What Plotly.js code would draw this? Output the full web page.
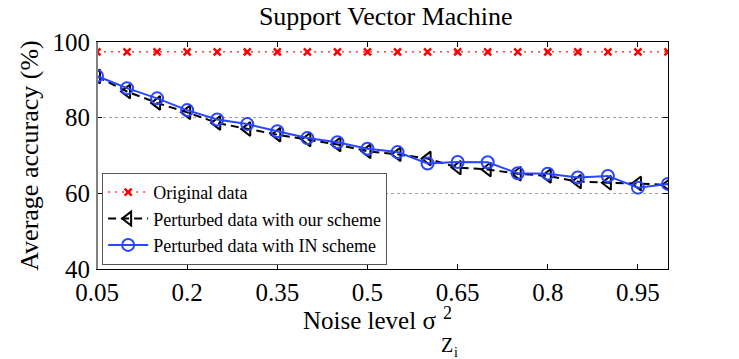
<!DOCTYPE html>
<html>
<head>
<meta charset="utf-8">
<script src="https://cdn.plot.ly/plotly-3.0.1.min.js"></script>
<style>html,body{margin:0;padding:0;background:#fff;}#chart{width:739px;height:359px;}</style>
</head>
<body>
<div id="chart"></div>
<script>
const noiseLevels = [0.05,0.10,0.15,0.20,0.25,0.30,0.35,0.40,0.45,0.50,0.55,0.60,0.65,0.70,0.75,0.80,0.85,0.90,0.95,1.00];
const originalData = [97.4,97.4,97.4,97.4,97.4,97.4,97.4,97.4,97.4,97.4,97.4,97.4,97.4,97.4,97.4,97.4,97.4,97.4,97.4,97.4];
const ourScheme = [90.9,86.9,83.9,81.4,78.6,77.0,75.5,74.2,72.9,71.1,70.3,69.2,66.8,66.3,65.2,64.6,63.1,62.8,62.6,62.2];
const inScheme = [91.0,87.8,85.1,82.0,79.5,78.3,76.4,74.6,73.5,71.8,70.9,67.9,68.3,68.2,65.3,65.2,64.2,64.6,61.5,62.5];
const xTickVals = [0.05,0.2,0.35,0.5,0.65,0.8,0.95];
const xTickText = ['0.05','0.2','0.35','0.5','0.65','0.8','0.95'];
const yTickVals = [40,60,80,100];
const seriesNames = ['Original data','Perturbed data with our scheme','Perturbed data with IN scheme'];

const serif = '"Liberation Serif", "Times New Roman", Times, serif';

const traces = [
  {x: noiseLevels, y: originalData, name: seriesNames[0], mode: 'lines+markers',
   line: {color: '#ff4040', width: 1.5, dash: '2px,5px'},
   marker: {symbol: 'x-thin-open', size: 7, color: '#ff0000', line: {color: '#ff0000', width: 2.5}}},
  {x: noiseLevels, y: ourScheme, name: seriesNames[1], mode: 'lines+markers',
   line: {color: '#000000', width: 2, dash: '8px,5px'},
   marker: {symbol: 'triangle-left-open', size: 12, color: '#000000', line: {color: '#000000', width: 2}}},
  {x: noiseLevels, y: inScheme, name: seriesNames[2], mode: 'lines+markers',
   line: {color: '#2a45ff', width: 2},
   marker: {symbol: 'circle-open', size: 12, color: '#2a45ff', line: {color: '#2a45ff', width: 2}}}
];

const layout = {
  width: 739, height: 359,
  margin: {l: 97, r: 71, t: 42, b: 90},
  paper_bgcolor: '#ffffff', plot_bgcolor: '#ffffff',
  font: {family: serif, color: '#000000', size: 24},
  title: {text: 'Support Vector Machine', font: {family: serif, size: 26, color: '#000'},
          x: 0.522, xanchor: 'center', y: 0.955, yanchor: 'middle'},
  xaxis: {range: [0.05, 1.0], tickvals: xTickVals, ticktext: xTickText,
          showgrid: false, zeroline: false, showline: true, linecolor: '#000', linewidth: 1,
          mirror: 'ticks', ticks: 'inside', ticklen: 5, tickcolor: '#000', tickwidth: 1,
          tickfont: {family: serif, size: 25}, automargin: false, ticklabelstandoff: 1},
  yaxis: {range: [40, 100], tickvals: yTickVals,
          showgrid: true, gridcolor: '#a0a0a0', griddash: 'dot', gridwidth: 1,
          zeroline: false, showline: true, linecolor: '#000', linewidth: 1,
          mirror: 'ticks', ticks: 'inside', ticklen: 5, tickcolor: '#000', tickwidth: 1,
          tickfont: {family: serif, size: 25}, automargin: false, ticklabelstandoff: 1,
          title: {text: 'Average accuracy (%)', font: {family: serif, size: 26}, standoff: 6}},
  legend: {x: 0.009, y: 0.018, xanchor: 'left', yanchor: 'bottom',
           bgcolor: '#ffffff', bordercolor: '#555555', borderwidth: 1,
           font: {family: serif, size: 18}, tracegroupgap: 0, itemwidth: 40},
  shapes: [
    {type: 'line', xref: 'paper', yref: 'paper', x0: 0, x1: 0, y0: 0, y1: 1,
     line: {color: '#808080', width: 2}}
  ],
  annotations: [
    {text: 'Noise level σ', xref: 'paper', yref: 'paper', x: 0.5954, y: -0.229, xanchor: 'right', yanchor: 'middle',
     showarrow: false, font: {family: serif, size: 25}, borderpad: 0},
    {text: '2', xref: 'paper', yref: 'paper', x: 0.604, y: -0.194, xanchor: 'left', yanchor: 'middle',
     showarrow: false, font: {family: serif, size: 18}, borderpad: 0},
    {text: 'Z', xref: 'paper', yref: 'paper', x: 0.600, y: -0.335, xanchor: 'left', yanchor: 'middle',
     showarrow: false, font: {family: serif, size: 20}, borderpad: 0},
    {text: 'i', xref: 'paper', yref: 'paper', x: 0.624, y: -0.37, xanchor: 'left', yanchor: 'middle',
     showarrow: false, font: {family: serif, size: 14}, borderpad: 0}
  ],
  showlegend: true
};

Plotly.newPlot('chart', traces, layout, {displayModeBar: false, staticPlot: true});
</script>
</body>
</html>
